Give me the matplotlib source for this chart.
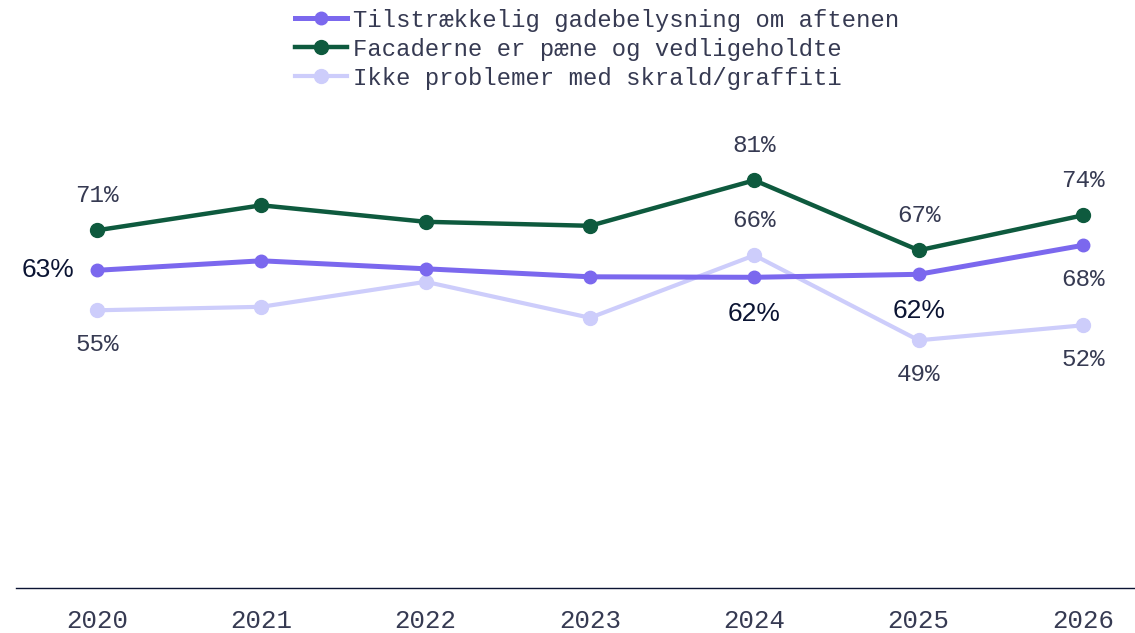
import matplotlib
matplotlib.use("Agg")
import matplotlib.pyplot as plt
from matplotlib.lines import Line2D

# data
years = [2020, 2021, 2022, 2023, 2024, 2025, 2026]
lys = [63, 64.9, 63.3, 61.7, 61.6, 62.2, 68]
facader = [71, 76, 72.7, 71.9, 81, 67, 74]
skrald = [55, 55.7, 60.7, 53.5, 66, 49, 52]
series_names = ["Tilstrækkelig gadebelysning om aftenen",
                "Facaderne er pæne og vedligeholdte",
                "Ikke problemer med skrald/graffiti"]

# which points carry a label and where
lys_labels = {2020: "left", 2024: "below", 2025: "below"}
facader_labels = {2020: "above", 2024: "above", 2025: "above", 2026: "above"}
skrald_labels = {2020: "below", 2024: "above", 2025: "below", 2026: "below"}
lys_mono_labels = {2026: "below"}

c_lys = "#7b68ee"
c_fac = "#0e5a3e"
c_skr = "#cdcdfb"
c_txt = "#363a52"
c_dark = "#0b1433"
mono = "Liberation Mono"
sans = "Liberation Sans"

fig = plt.figure(figsize=(11.35, 6.33), dpi=100)
ax = fig.add_axes([16 / 1135, 1 - 588 / 633, 1119 / 1135, 507 / 633])
ax.set_xlim(2019.507, 2026.316)
ax.set_ylim(-0.54, 100.86)

ax.plot(years, skrald, color=c_skr, lw=3, marker="o", ms=10, zorder=2)
ax.plot(years, lys, color=c_lys, lw=3.6, marker="o", ms=9, zorder=3)
ax.plot(years, facader, color=c_fac, lw=3.2, marker="o", ms=10, zorder=4)


def mono_label(x, v, where):
    dy = 35 if where == "above" else -34
    ax.annotate(f"{v:.0f}%", (x, v), xytext=(0, dy * 0.72), textcoords="offset points",
                ha="center", va="center", fontsize=17.5, family=mono, color=c_txt)


for y, v in zip(years, facader):
    if y in facader_labels:
        mono_label(y, v, facader_labels[y])
for y, v in zip(years, skrald):
    if y in skrald_labels:
        mono_label(y, v, skrald_labels[y])
for y, v in zip(years, lys):
    if y in lys_mono_labels:
        mono_label(y, v, lys_mono_labels[y])
    if y in lys_labels:
        if lys_labels[y] == "left":
            ax.annotate(f"{v:.0f}%", (y, v), xytext=(-23 * 0.72, 0), textcoords="offset points",
                        ha="right", va="center", fontsize=19, family=sans, color=c_dark)
        else:
            ax.annotate(f"{v:.0f}%", (y, v), xytext=(0, -37 * 0.72), textcoords="offset points",
                        ha="center", va="center", fontsize=19, family=sans, color=c_dark)

# axes styling
for s in ["top", "right", "left"]:
    ax.spines[s].set_visible(False)
ax.spines["bottom"].set_color(c_dark)
ax.spines["bottom"].set_linewidth(1)
ax.set_yticks([])
ax.set_xticks(years)
ax.set_xticklabels([str(y) for y in years], family=mono, fontsize=18.5, color=c_txt)
ax.tick_params(axis="x", length=0, pad=15)

handles = [Line2D([], [], color=c_lys, lw=3.6, marker="o", ms=9),
           Line2D([], [], color=c_fac, lw=3.2, marker="o", ms=10),
           Line2D([], [], color=c_skr, lw=3, marker="o", ms=10)]
fig.legend(handles, series_names, loc="upper left", bbox_to_anchor=(278 / 1135, 1 + 8 / 633),
           frameon=False, prop={"family": mono, "size": 17.2}, labelcolor=c_txt,
           handlelength=2.2, handletextpad=0.25, labelspacing=0.25, borderpad=0.2)

fig.savefig("out.png", dpi=100)
